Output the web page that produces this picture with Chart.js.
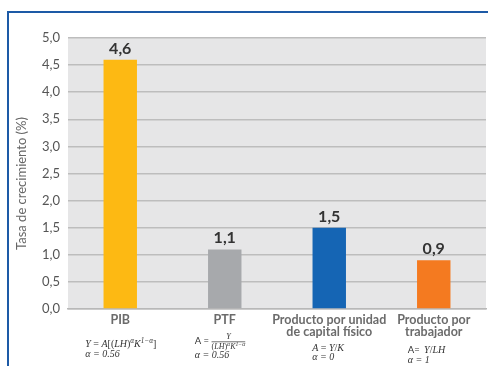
<!DOCTYPE html>
<html><head><meta charset="utf-8">
<script src="https://cdn.jsdelivr.net/npm/chart.js@4"></script>
<style>html,body{margin:0;padding:0;background:#fff}#wrap{width:488px;height:366px}</style>
</head><body><div id="wrap"><canvas id="c" width="488" height="366"></canvas></div>
<script>
const categories = [["PIB"], ["PTF"], ["Producto por unidad", "de capital físico"], ["Producto por", "trabajador"]];
const growthRates = [4.6, 1.1, 1.5, 0.9];
const barColors = ["#FDB913", "#A7A9AC", "#1565B4", "#F47A20"];
const yMin = 0, yMax = 5, yStep = 0.5;
const yTitle = "Tasa de crecimiento (%)";
const alphaLines = ["α = 0.56", "α = 0.56", "α = 0", "α = 1"];

const fmt = v => v.toFixed(1).replace('.', ',');
const SERIF = '"Liberation Serif", "DejaVu Serif", serif';
const SANS = 'Lato, "Open Sans", sans-serif';

function fontFor(r, size) {
  const s = r.sup ? size * 0.72 : size;
  return (r.sans ? '' : (r.it ? 'italic ' : '')) + s + 'px ' + (r.sans ? SANS : SERIF);
}
function drawRuns(ctx, x, y, runs, size) {
  runs.forEach(r => {
    ctx.font = fontFor(r, size);
    ctx.fillText(r.t, x, y + (r.sup ? -size * 0.38 : 0));
    x += ctx.measureText(r.t).width;
  });
  return x;
}
function runsWidth(ctx, runs, size) {
  let w = 0;
  runs.forEach(r => { ctx.font = fontFor(r, size); w += ctx.measureText(r.t).width; });
  return w;
}

const framePlugin = {
  id: 'frame',
  beforeDraw(chart) {
    const { ctx, chartArea: a } = chart;
    ctx.save();
    ctx.fillStyle = '#ffffff';
    ctx.fillRect(0, 0, chart.width, chart.height);
    ctx.fillStyle = '#e6e6e7';
    ctx.fillRect(a.left, a.top, a.right - a.left, a.bottom - a.top);
    ctx.fillStyle = '#1d5aa6';
    ctx.fillRect(7, 11, chart.width - 7, 2);
    ctx.fillRect(7, 11, 2, chart.height - 11);
    ctx.translate(22, (a.top + a.bottom) / 2 + 10);
    ctx.rotate(-Math.PI / 2);
    ctx.fillStyle = '#666666';
    ctx.font = '13px ' + SANS;
    ctx.textAlign = 'center';
    ctx.textBaseline = 'middle';
    ctx.fillText(yTitle, 0, 0);
    ctx.restore();
  }
};

const labelPlugin = {
  id: 'labels',
  afterDatasetsDraw(chart) {
    const { ctx } = chart;
    const meta = chart.getDatasetMeta(0);
    ctx.save();
    ctx.fillStyle = '#333333';
    ctx.font = 'bold 16px ' + SANS;
    ctx.textAlign = 'center';
    ctx.textBaseline = 'alphabetic';
    meta.data.forEach((bar, i) => {
      ctx.fillText(fmt(growthRates[i]), bar.x, bar.y - 6);
    });
    ctx.restore();
  },
  afterDraw(chart) {
    const { ctx } = chart;
    const xs = chart.scales.x;
    const px = i => xs.getPixelForValue(i);
    ctx.save();
    ctx.fillStyle = '#333333';
    ctx.textBaseline = 'alphabetic';
    ctx.textAlign = 'left';
    const fs = 10;
    let x0 = px(0) - 35;
    drawRuns(ctx, x0, 347, [
      { t: 'Y', it: 1 }, { t: ' = ' }, { t: 'A', it: 1 }, { t: '[(' }, { t: 'LH', it: 1 }, { t: ')' },
      { t: 'α', it: 1, sup: 1 }, { t: 'K', it: 1 }, { t: '1−α', it: 1, sup: 1 }, { t: ']' }
    ], fs);
    drawRuns(ctx, x0, 357, [{ t: alphaLines[0], it: 1 }], fs);
    x0 = px(1) - 30;
    let xe = drawRuns(ctx, x0, 344, [{ t: 'A = ', sans: 1 }], 9.5);
    const den = [{ t: '(' }, { t: 'LH', it: 1 }, { t: ')' }, { t: 'α', it: 1, sup: 1 }, { t: 'K', it: 1 }, { t: '1−α', it: 1, sup: 1 }];
    const dw = runsWidth(ctx, den, 8);
    drawRuns(ctx, xe, 349, den, 8);
    ctx.fillRect(xe, 341.5, dw, 0.7);
    const nw = runsWidth(ctx, [{ t: 'Y', it: 1 }], 8);
    drawRuns(ctx, xe + (dw - nw) / 2, 339, [{ t: 'Y', it: 1 }], 8);
    drawRuns(ctx, x0, 358, [{ t: alphaLines[1], it: 1 }], fs);
    x0 = px(2) - 17;
    drawRuns(ctx, x0, 351, [{ t: 'A', it: 1 }, { t: ' = ' }, { t: 'Y', it: 1 }, { t: '/' }, { t: 'K', it: 1 }], fs);
    drawRuns(ctx, x0, 360, [{ t: alphaLines[2], it: 1 }], fs);
    x0 = px(3) - 26;
    xe = drawRuns(ctx, x0, 353, [{ t: 'A= ', sans: 1 }], 9.5);
    drawRuns(ctx, xe + 2, 353, [{ t: 'Y', it: 1 }, { t: '/' }, { t: 'LH', it: 1 }], fs);
    drawRuns(ctx, x0, 363, [{ t: alphaLines[3], it: 1 }], fs);
    ctx.restore();
  }
};

new Chart(document.getElementById('c'), {
  type: 'bar',
  data: {
    labels: categories,
    datasets: [{
      data: growthRates,
      backgroundColor: barColors,
      borderWidth: 0,
      barPercentage: 0.32,
      categoryPercentage: 1
    }]
  },
  options: {
    responsive: false,
    animation: false,
    devicePixelRatio: 1,
    layout: { padding: { left: 0, right: 2, top: 38, bottom: 0 } },
    plugins: { legend: { display: false }, tooltip: { enabled: false } },
    scales: {
      x: {
        grid: { display: false, drawTicks: false },
        border: { color: '#b8b8b8', width: 1.5 },
        ticks: {
          color: '#6b6b6b',
          font: { family: SANS, size: 12.5, weight: 'bold', lineHeight: 0.98 },
          padding: 5,
          maxRotation: 0,
          autoSkip: false
        },
        afterFit(s) { s.height = 57; }
      },
      y: {
        min: yMin, max: yMax,
        grid: { color: '#bdbdbd', lineWidth: 1.5, drawTicks: false },
        border: { display: false },
        ticks: {
          stepSize: yStep,
          color: '#555555',
          padding: 8,
          font: { family: SANS, size: 13 },
          callback: v => fmt(v)
        },
        title: { display: false },
        afterFit(s) { s.width = 68; }
      }
    }
  },
  plugins: [framePlugin, labelPlugin]
});
</script>
</body></html>
